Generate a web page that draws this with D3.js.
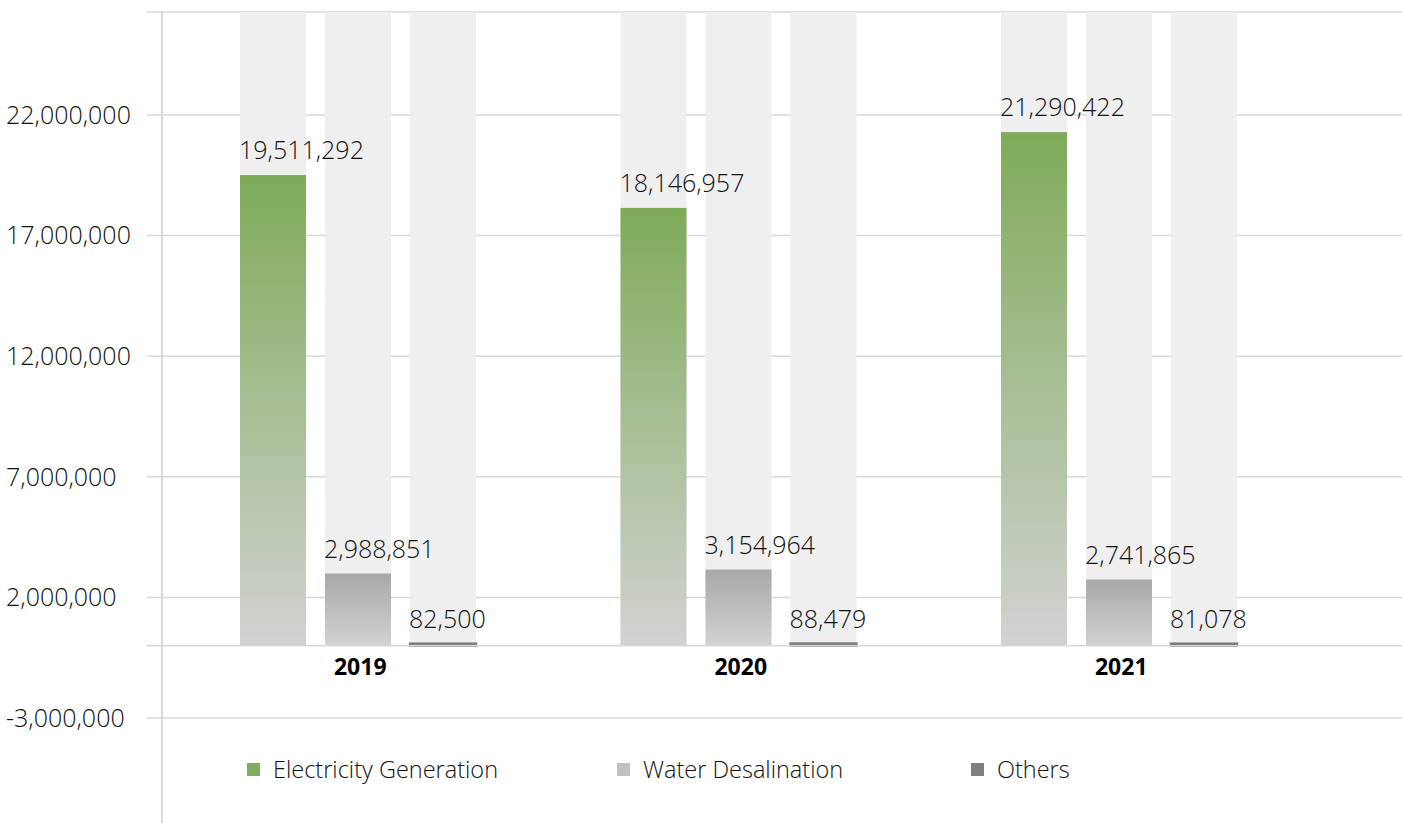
<!DOCTYPE html>
<html>
<head>
<meta charset="utf-8">
<script src="https://cdn.jsdelivr.net/npm/d3@7"></script>
<style>
  html, body { margin: 0; padding: 0; background: #fff; }
  svg { display: block; }
  text { font-family: "Open Sans", "Noto Sans", sans-serif; }
</style>
</head>
<body>
<svg id="chart" width="1402" height="823"></svg>
<script>
// ---- data ----
const categories = ["2019", "2020", "2021"];
const seriesNames = ["Electricity Generation", "Water Desalination", "Others"];
const electricity = [19511292, 18146957, 21290422];
const water = [2988851, 3154964, 2741865];
const others = [82500, 88479, 81078];
const yTicks = [22000000, 17000000, 12000000, 7000000, 2000000, -3000000];
const legendColors = ["#82ad5e", "#c0c0c0", "#808080"];

const seriesValues = [electricity, water, others];

// ---- layout ----
const W = 1402, H = 823;
const plotTop = 12, plotBottom = 823;
const axisX = 162;
const svg = d3.select("#chart");
const fmt = v => d3.format(",")(v).replace("\u2212", "-");

const y = d3.scaleLinear().domain([-3000000, 22000000]).range([718, 115]);
const x0 = d3.scaleBand().domain(categories).range([170, 1311.5]);
const x1 = d3.scaleBand().domain(seriesNames).range([70, 306]).paddingInner(0.2235);

// gradients
const defs = svg.append("defs");
function grad(id, top, bottom) {
  const g = defs.append("linearGradient").attr("id", id)
    .attr("x1", 0).attr("y1", 0).attr("x2", 0).attr("y2", 1);
  g.append("stop").attr("offset", "0%").attr("stop-color", top);
  g.append("stop").attr("offset", "100%").attr("stop-color", bottom);
}
grad("gElec", "#7eab58", "#d2d2d2");
grad("gWater", "#a8a8a8", "#d2d2d2");
const fills = ["url(#gElec)", "url(#gWater)", "#7f7f7f"];
const strokes = ["none", "none", "#7f7f7f"];

// gridlines
const gridColor = "#d9d9d9";
svg.append("line").attr("x1", 147).attr("x2", W).attr("y1", plotTop).attr("y2", plotTop)
  .attr("stroke", gridColor).attr("stroke-width", 1.5);
svg.append("g").selectAll("line").data(yTicks).join("line")
  .attr("x1", 147).attr("x2", W)
  .attr("y1", d => y(d)).attr("y2", d => y(d))
  .attr("stroke", gridColor).attr("stroke-width", 1.5);

// background slot bars
const groups = svg.append("g").selectAll("g").data(categories).join("g")
  .attr("transform", c => `translate(${x0(c)},0)`);

groups.selectAll("rect.bg").data(seriesNames).join("rect").attr("class", "bg")
  .attr("x", s => x1(s)).attr("width", x1.bandwidth())
  .attr("y", plotTop).attr("height", y(0) - plotTop)
  .attr("fill", "#efefef");

// zero baseline
svg.append("line").attr("x1", 147).attr("x2", W).attr("y1", y(0)).attr("y2", y(0))
  .attr("stroke", gridColor).attr("stroke-width", 1.5);

// value bars
groups.each(function(c, ci) {
  const g = d3.select(this);
  const vals = seriesNames.map((s, si) => ({ s, si, v: seriesValues[si][ci] }));
  g.selectAll("rect.bar").data(vals).join("rect").attr("class", "bar")
    .attr("x", d => x1(d.s)).attr("width", x1.bandwidth())
    .attr("y", d => y(d.v)).attr("height", d => y(0) - y(d.v))
    .attr("fill", d => fills[d.si])
    .attr("stroke", d => strokes[d.si]).attr("stroke-width", 2.5);
  g.selectAll("text.val").data(vals).join("text").attr("class", "val")
    .attr("x", d => x1(d.s) - 1)
    .attr("y", d => y(d.v) - 16)
    .attr("font-size", 25).attr("font-weight", 300).attr("fill", "#111")
    .text(d => fmt(d.v));
});

// y axis line
svg.append("line").attr("x1", axisX).attr("x2", axisX).attr("y1", plotTop - 1).attr("y2", plotBottom)
  .attr("stroke", gridColor).attr("stroke-width", 2);

// y tick labels
svg.append("g").selectAll("text").data(yTicks).join("text")
  .attr("x", 6).attr("y", d => y(d)).attr("dy", "0.35em")
  .attr("font-size", 25).attr("font-weight", 300).attr("fill", "#111")
  .text(d => fmt(d));

// category labels
svg.append("g").selectAll("text").data(categories).join("text")
  .attr("x", c => x0(c) + x0.bandwidth() / 2).attr("y", 675)
  .attr("text-anchor", "middle").attr("font-size", 23).attr("font-weight", 700).attr("fill", "#000")
  .text(c => c);

// legend
const legendX = [247, 617, 971];
const lg = svg.append("g").selectAll("g").data(seriesNames).join("g")
  .attr("transform", (s, i) => `translate(${legendX[i]},763)`);
lg.append("rect").attr("width", 13).attr("height", 13).attr("fill", (s, i) => legendColors[i]);
lg.append("text").attr("x", 26).attr("y", 6.5).attr("dy", "0.35em")
  .attr("font-size", 23.5).attr("font-weight", 300).attr("fill", "#111")
  .text(s => s);
</script>
</body>
</html>
